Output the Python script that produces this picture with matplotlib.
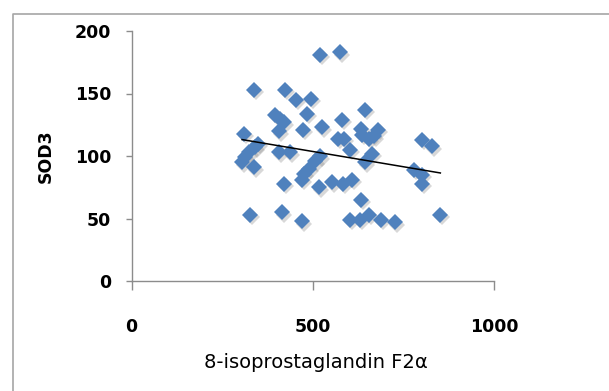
import numpy as np
import matplotlib
matplotlib.use("Agg")
from matplotlib import pyplot as plt
from matplotlib.lines import Line2D
from matplotlib.transforms import offset_copy

# 8-isoprostaglandin F2a vs SOD3
iso = [521, 576,
       338, 424, 455, 496,
       484, 397, 410, 420, 406, 473, 525, 581, 645,
       310, 350, 341, 325, 305, 337, 314,
       406, 436,
       570, 586, 604,
       632, 636, 655, 680, 670,
       664, 645,
       802, 830,
       779, 802, 802,
       852,
       420, 470, 475, 489, 507, 521,
       517, 553, 583, 608,
       632,
       327, 416, 470,
       602, 630, 655, 687, 728]
sod3 = [181, 183,
        153, 153, 145, 146,
        134, 133, 130, 127, 120, 121, 123, 129, 137,
        118, 110, 107, 103, 95, 91, 99,
        103, 103,
        114, 114, 105,
        122, 117, 114, 121, 116,
        102, 95,
        113, 108,
        89, 85, 78,
        53,
        78, 81, 86, 90, 96, 100,
        75, 79, 78, 81,
        65,
        53, 55, 48,
        49, 49, 53, 49, 47]

xticks = [0, 500, 1000]
yticks = [0, 50, 100, 150, 200]

iso = np.array(iso, dtype=float)
sod3 = np.array(sod3, dtype=float)

W, H = 609, 391
fig = plt.figure(figsize=(W / 100, H / 100), dpi=100)
ax = fig.add_axes([131.5 / W, 1 - 281 / H, (494 - 131.5) / W, (281 - 31) / H])

blue = "#4f81bd"
grey = "#8c8c8c"

# soft shadow under the markers
shadow = offset_copy(ax.transData, fig=fig, x=2, y=-2.5, units="dots")
ax.plot(iso, sod3, "D", ms=8.2, color="#7f7f7f", alpha=0.3, mew=0,
        transform=shadow, zorder=2)
ax.plot(iso, sod3, "D", ms=8.2, color=blue, mew=0, zorder=3)

# linear trendline
k, b = np.polyfit(iso, sod3, 1)
xx = np.array([iso.min(), iso.max()])
ax.plot(xx, k * xx + b, color="black", lw=1.1, zorder=4)

ax.set_xlim(0, 1000)
ax.set_ylim(0, 200)
ax.set_xticks(xticks)
ax.set_yticks(yticks)

for s in ["top", "right"]:
    ax.spines[s].set_visible(False)
for s in ["left", "bottom"]:
    ax.spines[s].set_color(grey)
    ax.spines[s].set_linewidth(1.0)

ax.tick_params(axis="y", direction="out", length=4.5, width=1, color=grey,
               pad=10, labelsize=12.5)
ax.tick_params(axis="x", direction="out", length=6.5, width=1, color=grey,
               pad=20, labelsize=12.5)
for lab in ax.get_xticklabels() + ax.get_yticklabels():
    lab.set_fontweight("bold")

fig.text(316 / W, 1 - 362 / H, "8-isoprostaglandin F2\u03b1", fontsize=14,
         ha="center", va="center")
fig.text(45.5 / W, 1 - 156 / H, "SOD3", fontsize=12.5, fontweight="bold",
         rotation=90, ha="center", va="center")

# chart area border (top and left edges visible in the crop)
fx = 13 / W
fy = 1 - 14 / H
fig.add_artist(Line2D([fx, fx, 1], [0, fy, fy], transform=fig.transFigure,
                      color="#a6a6a6", lw=1.2))

fig.savefig("out.png", dpi=100)
